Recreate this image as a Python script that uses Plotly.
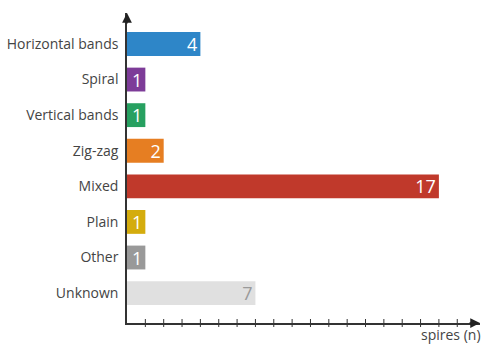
import plotly.graph_objects as go

categories = ["Horizontal bands", "Spiral", "Vertical bands", "Zig-zag", "Mixed", "Plain", "Other", "Unknown"]
values = [4, 1, 1, 2, 17, 1, 1, 7]
colors = ["#2E86C8", "#7D3C98", "#27A060", "#E67E22", "#C0392B", "#D4AC0D", "#999999", "#E0E0E0"]
text_colors = ["white"] * 7 + ["#9A9A9A"]
x_ticks = list(range(1, 19))
x_title = "spires (n)"

FONT = "Open Sans"

fig = go.Figure(go.Bar(
    x=values, y=categories, orientation="h",
    marker=dict(color=colors, line=dict(width=0)),
    width=0.67,
    text=[str(v) for v in values],
    textposition="inside", insidetextanchor="end", textangle=0,
    textfont=dict(family=FONT, size=18, color=text_colors),
    constraintext="none",
    cliponaxis=False,
    hoverinfo="skip",
))

# tick marks crossing the x axis
shapes = [dict(type="line", xref="x", yref="paper", x0=t, x1=t, y0=-0.0129, y1=0.0129,
               line=dict(color="#333333", width=1)) for t in x_ticks]

fig.update_layout(
    width=483, height=345,
    margin=dict(l=127, r=3, t=13, b=22),
    paper_bgcolor="white", plot_bgcolor="white",
    showlegend=False,
    font=dict(family=FONT, size=14, color="#444444"),
    xaxis=dict(range=[0, 19.24], showticklabels=False, ticks="",
               showline=True, linecolor="#333333", linewidth=1.5,
               showgrid=False, zeroline=False, fixedrange=True),
    yaxis=dict(categoryorder="array", categoryarray=categories,
               range=[7.84, -0.87], showline=True, linecolor="#333333", linewidth=1.5,
               ticks="", showgrid=False, zeroline=False, ticklabelstandoff=4,
               tickfont=dict(family=FONT, size=14, color="#444444"), fixedrange=True),
    shapes=shapes,
    annotations=[
        dict(xref="paper", yref="paper", x=1, y=0, ax=-12, ay=0, showarrow=True,
             arrowhead=2, arrowsize=1.3, arrowwidth=1.5, arrowcolor="#222222", text=""),
        dict(xref="paper", yref="paper", x=0, y=1, ax=0, ay=12, showarrow=True,
             arrowhead=2, arrowsize=1.3, arrowwidth=1.5, arrowcolor="#222222", text=""),
        dict(xref="paper", yref="paper", x=1, y=0, xanchor="right", yanchor="bottom",
             yshift=-22, xshift=2, showarrow=False, text=x_title, borderpad=0,
             font=dict(family=FONT, size=14, color="#444444")),
    ],
)

fig.write_html("out.html", config={"displayModeBar": False},
               post_script="document.body.style.margin='0';")
